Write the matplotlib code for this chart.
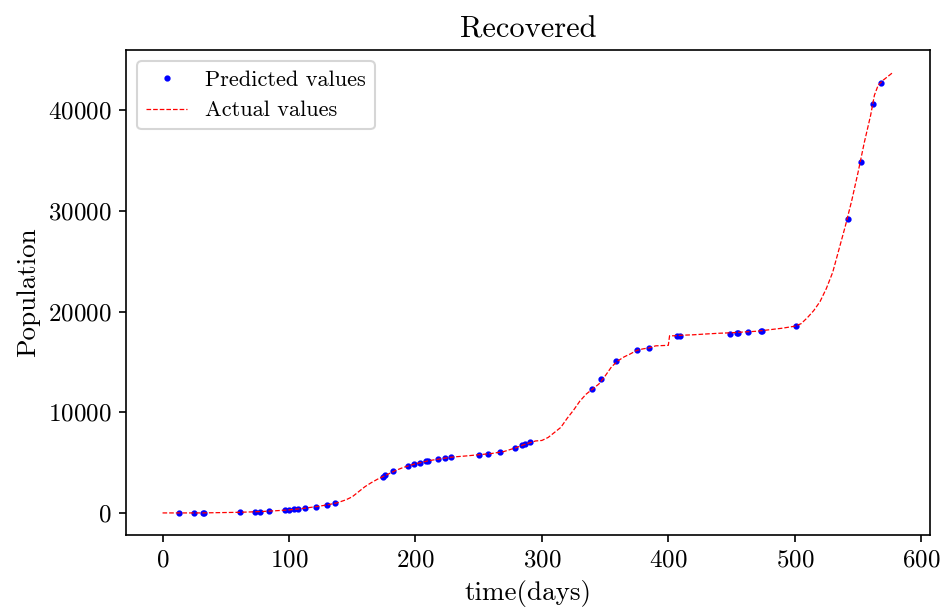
import matplotlib
matplotlib.use("Agg")
import matplotlib.pyplot as plt

plt.rcParams["font.family"] = "serif"
plt.rcParams["font.serif"] = ["cmr10", "DejaVu Serif"]
plt.rcParams["mathtext.fontset"] = "cm"
plt.rcParams["axes.formatter.use_mathtext"] = True
plt.rcParams["font.size"] = 12

# actual recovered counts
actual_days = [0, 10, 20, 30, 40, 50, 60, 70, 80, 90, 100, 110, 120, 130, 138,
               145, 150, 155, 160, 165, 170, 175, 180, 185, 190, 195, 200, 205,
               210, 215, 220, 225, 230, 240, 250, 260, 270, 280, 285, 290, 295,
               300, 305, 310, 315, 320, 325, 330, 335, 340, 345, 350, 355, 360,
               365, 370, 375, 380, 385, 390, 400, 401, 405, 410, 420, 430, 440,
               450, 460, 470, 480, 490, 500, 505, 510, 515, 520, 525, 530, 535,
               540, 545, 550, 555, 560, 563, 566, 570, 578]
actual = [0, 0, 0, 0, 20, 40, 60, 100, 150, 220, 300, 430, 600, 790, 1000,
          1300, 1600, 2100, 2600, 3000, 3350, 3650, 3950, 4250, 4500, 4700, 4880,
          5020, 5180, 5280, 5380, 5480, 5560, 5660, 5780, 5900, 6100, 6500, 6750,
          6950, 7150, 7200, 7500, 8000, 8500, 9400, 10200, 11100, 11800, 12300,
          12800, 13600, 14500, 15100, 15500, 15800, 16150, 16300, 16400, 16600,
          16650, 17600, 17600, 17650, 17700, 17780, 17850, 17900, 17980, 18050,
          18200, 18350, 18550, 18800, 19400, 20100, 21000, 22300, 23900, 26200,
          28500, 31000, 33800, 36800, 39500, 41500, 42500, 43000, 43800]

# predicted values at the test days
pred_days = [13, 25, 32, 33, 61, 73, 77, 84, 97, 100, 104, 107, 113, 121, 130,
             136, 174, 176, 182, 194, 199, 204, 208, 210, 218, 223, 228, 250,
             257, 267, 279, 284, 287, 291, 340, 347, 359, 375, 385, 407, 409,
             449, 454, 455, 463, 473, 474, 501, 542, 552, 562, 568]
predicted = [0, 0, 0, 0, 50, 100, 100, 170, 270, 300, 370, 400, 530, 630, 800,
             970, 3590, 3760, 4120, 4690, 4860, 4990, 5120, 5190, 5350, 5450,
             5550, 5790, 5850, 6050, 6480, 6710, 6810, 7010, 12340, 13300, 15100,
             16190, 16390, 17590, 17620, 17820, 17920, 17920, 17990, 18050, 18060,
             18570, 29230, 34880, 40670, 42690]

fig = plt.figure(figsize=(946 / 150, 610 / 150), dpi=150)
ax = fig.add_axes([0.1332, 0.123, 0.8498, 0.795])

ax.plot(pred_days, predicted, "b.", markersize=4, label="Predicted values")
ax.plot(actual_days, actual, "r--", linewidth=0.6, label="Actual values")

ax.set_title("Recovered", fontsize=14.6)
ax.set_xlabel("time(days)", fontsize=13)
ax.set_ylabel("Population", fontsize=13)
ax.legend(loc="upper left", fontsize=10.7, handlelength=1.85)

fig.savefig("out.png", dpi=150)
